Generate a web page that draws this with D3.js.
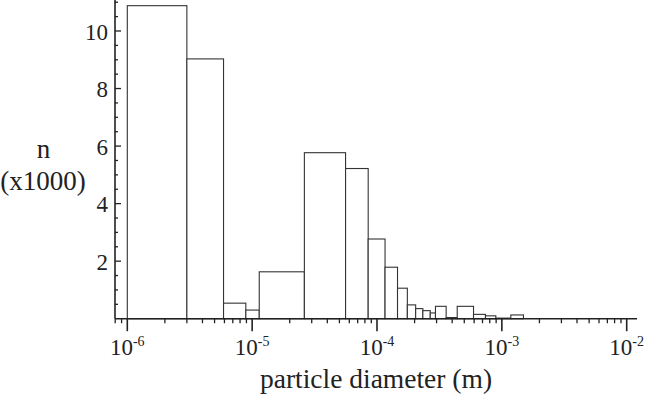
<!DOCTYPE html>
<html>
<head>
<meta charset="utf-8">
<script src="https://cdn.jsdelivr.net/npm/d3@7"></script>
<style>
  body { margin: 0; background: #fff; }
  text { font-family: "Liberation Serif", "Times New Roman", serif; fill: #222; }
</style>
</head>
<body>
<div id="chart"></div>
<script>
/**
 * DATA
 * */
// bin edges, particle diameter in metres
const binEdges = [1.0e-6, 3.0e-6, 5.9e-6, 8.9e-6, 1.14e-5, 2.62e-5, 5.6e-5, 8.5e-5,
  1.16e-4, 1.46e-4, 1.75e-4, 2.04e-4, 2.33e-4, 2.67e-4, 2.94e-4, 3.58e-4,
  4.39e-4, 5.93e-4, 7.39e-4, 8.95e-4, 1.18e-3, 1.49e-3];
// counts per bin (x1000)
const counts = [10.88, 9.03, 0.54, 0.30, 1.63, 5.77, 5.22, 2.77, 1.79, 1.06,
  0.48, 0.35, 0.28, 0.20, 0.43, 0.04, 0.43, 0.15, 0.10, 0.02, 0.13];
const xMajorExp = [-6, -5, -4, -3, -2];
const yTickLabels = [2, 4, 6, 8, 10];

/**
 * CONSTANTS
 * */
const width = 646, height = 399;
const axisX = 115, axisY = 318.7;

const svg = d3.select("#chart").append("svg")
  .attr("width", width)
  .attr("height", height);

const x = d3.scaleLog().domain([1e-6, 1e-2]).range([127.3, 626.7]);
const y = d3.scaleLinear().domain([0, 10]).range([axisY, 31]);

const bins = counts.map((c, i) => ({ x0: binEdges[i], x1: binEdges[i + 1], n: c }));

// bars
svg.selectAll(".bar")
  .data(bins)
  .join("rect")
  .attr("class", "bar")
  .attr("x", d => x(d.x0))
  .attr("y", d => y(d.n))
  .attr("width", d => x(d.x1) - x(d.x0))
  .attr("height", d => axisY - y(d.n))
  .attr("fill", "#fff")
  .attr("stroke", "#333")
  .attr("stroke-width", 1.1);

// x axis
svg.append("line")
  .attr("x1", axisX).attr("x2", 637)
  .attr("y1", axisY).attr("y2", axisY)
  .attr("stroke", "#222").attr("stroke-width", 1.6);

const minorX = [8e-7, 9e-7];
xMajorExp.slice(0, -1).forEach(e => {
  for (let k = 2; k <= 9; k++) minorX.push(k * Math.pow(10, e));
});
svg.selectAll(".xminor")
  .data(minorX)
  .join("line")
  .attr("class", "xminor")
  .attr("x1", d => x(d)).attr("x2", d => x(d))
  .attr("y1", axisY).attr("y2", axisY + 4.5)
  .attr("stroke", "#222").attr("stroke-width", 1.3);

svg.selectAll(".xmajor")
  .data(xMajorExp)
  .join("line")
  .attr("class", "xmajor")
  .attr("x1", d => x(Math.pow(10, d))).attr("x2", d => x(Math.pow(10, d)))
  .attr("y1", axisY).attr("y2", axisY + 12.5)
  .attr("stroke", "#222").attr("stroke-width", 1.6);

const xLabels = svg.selectAll(".xlabel")
  .data(xMajorExp)
  .join("text")
  .attr("class", "xlabel")
  .attr("x", d => x(Math.pow(10, d)))
  .attr("y", 355)
  .attr("text-anchor", "middle")
  .attr("font-size", 23);
xLabels.append("tspan").text("10");
xLabels.append("tspan")
  .attr("dy", -9)
  .attr("font-size", 14)
  .text(d => d);

// y axis
svg.append("line")
  .attr("x1", axisX).attr("x2", axisX)
  .attr("y1", 0).attr("y2", axisY)
  .attr("stroke", "#222").attr("stroke-width", 1.6);

const yTicks = d3.range(0.5, 11.01, 0.5);
svg.selectAll(".ytick")
  .data(yTicks)
  .join("line")
  .attr("class", "ytick")
  .attr("x1", axisX)
  .attr("x2", d => axisX + (d % 2 === 0 ? 6 : 3))
  .attr("y1", d => y(d)).attr("y2", d => y(d))
  .attr("stroke", "#222").attr("stroke-width", 1.3);

svg.selectAll(".ylabel")
  .data(yTickLabels)
  .join("text")
  .attr("class", "ylabel")
  .attr("x", 108)
  .attr("y", d => y(d) + 8.5)
  .attr("text-anchor", "end")
  .attr("font-size", 23)
  .text(d => d);

// axis titles
svg.append("text")
  .attr("x", 376)
  .attr("y", 388)
  .attr("text-anchor", "middle")
  .attr("font-size", 27.5)
  .text("particle diameter (m)");

svg.append("text")
  .attr("x", 43.5)
  .attr("y", 158)
  .attr("text-anchor", "middle")
  .attr("font-size", 27)
  .text("n");

svg.append("text")
  .attr("x", 43)
  .attr("y", 190)
  .attr("text-anchor", "middle")
  .attr("font-size", 27)
  .text("(x1000)");
</script>
</body>
</html>
